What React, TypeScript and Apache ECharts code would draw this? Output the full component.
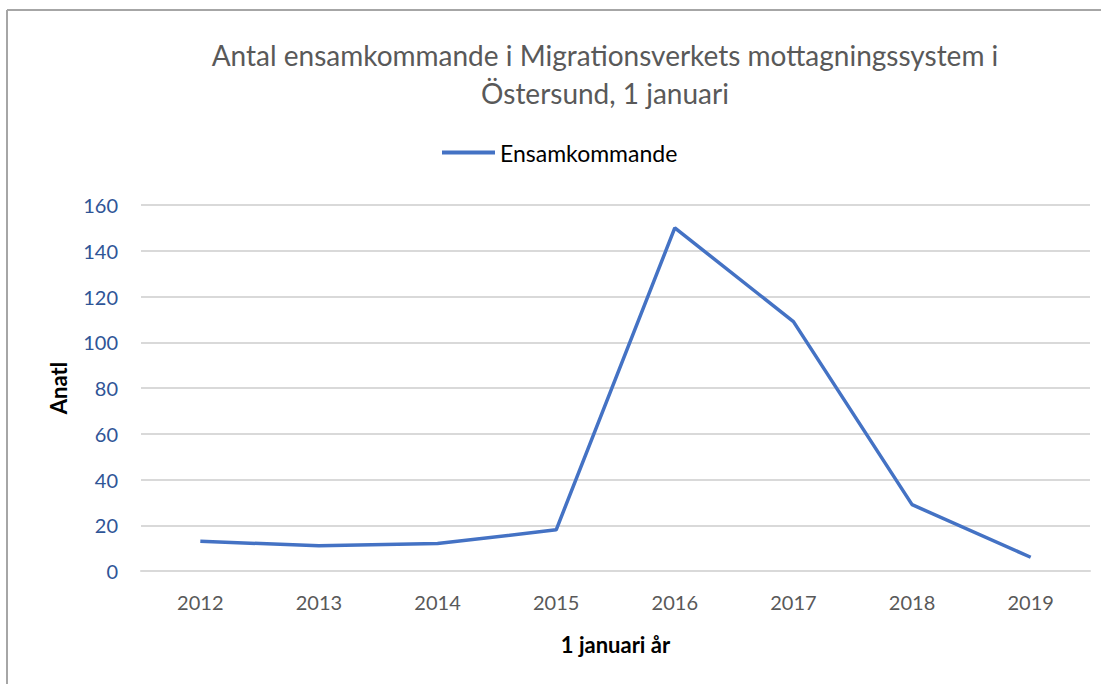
import React, { useEffect, useRef } from "react";
import * as echarts from "echarts";

const years = ["2012", "2013", "2014", "2015", "2016", "2017", "2018", "2019"];
const ensamkommande = [13, 11, 12, 18, 150, 109, 29, 6];
const yMin = 0;
const yMax = 160;
const yInterval = 20;

const FONT = "Lato, 'Noto Sans', sans-serif";

export default function App() {
  const ref = useRef<HTMLDivElement>(null);
  useEffect(() => {
    if (!ref.current) return;
    const chart = echarts.init(ref.current, null, { renderer: "svg" });
    chart.setOption({
      animation: false,
      backgroundColor: "#ffffff",
      textStyle: { fontFamily: FONT },
      title: {
        text: "Antal ensamkommande i Migrationsverkets mottagningssystem i\nÖstersund, 1 januari",
        left: 600,
        top: 31,
        textAlign: "center",
        textStyle: {
          fontFamily: FONT,
          fontSize: 28,
          fontWeight: "normal",
          color: "#595959",
          lineHeight: 38,
        },
      },
      legend: {
        data: ["Ensamkommande"],
        left: 437,
        top: 136,
        itemWidth: 53,
        itemHeight: 4,
        icon: "rect",
        textStyle: { fontFamily: FONT, fontSize: 23, color: "#000000" },
      },
      grid: { left: 141, right: 16, top: 205, bottom: 113, containLabel: false },
      xAxis: {
        type: "category",
        data: years,
        boundaryGap: true,
        axisLine: { show: true, lineStyle: { color: "#D9D9D9", width: 2 } },
        axisTick: { show: false },
        axisLabel: { fontFamily: FONT, fontSize: 20, color: "#595959", margin: 21 },
        name: "1 januari år",
        nameLocation: "middle",
        nameGap: 62,
        nameTextStyle: { fontFamily: FONT, fontSize: 22, fontWeight: "bold", color: "#000000" },
      },
      yAxis: {
        type: "value",
        min: yMin,
        max: yMax,
        interval: yInterval,
        axisLine: { show: false },
        axisTick: { show: false },
        splitLine: { lineStyle: { color: "#D9D9D9", width: 2 } },
        axisLabel: { fontFamily: FONT, fontSize: 20, color: "#2F5597", margin: 23 },
        name: "Anatl",
        nameLocation: "middle",
        nameGap: 72,
        nameRotate: 90,
        nameTextStyle: { fontFamily: FONT, fontSize: 22, fontWeight: "bold", color: "#000000" },
      },
      series: [
        {
          name: "Ensamkommande",
          type: "line",
          data: ensamkommande,
          symbol: "none",
          lineStyle: { color: "#4472C4", width: 3.5 },
          itemStyle: { color: "#4472C4" },
        },
      ],
      graphic: [
        { type: "line", shape: { x1: 7, y1: 10, x2: 1101, y2: 10 }, style: { stroke: "#A6A6A6", lineWidth: 2 } },
        { type: "line", shape: { x1: 7, y1: 10, x2: 7, y2: 684 }, style: { stroke: "#A6A6A6", lineWidth: 2 } },
      ],
    });
    return () => chart.dispose();
  }, []);
  return <div ref={ref} style={{ position: "fixed", left: 0, top: 0, width: 1106, height: 684 }} />;
}
